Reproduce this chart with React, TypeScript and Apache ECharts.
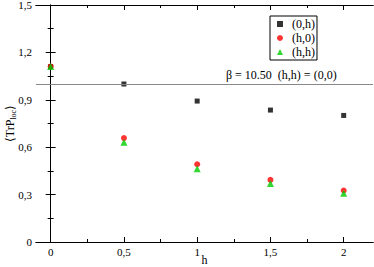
import React, { useEffect, useRef } from "react";
import * as echarts from "echarts";

const hValues = [0, 0.5, 1, 1.5, 2];
const series0h = [1.11, 1.0, 0.892, 0.835, 0.801];
const seriesH0 = [1.11, 0.658, 0.492, 0.393, 0.326];
const seriesHH = [1.11, 0.632, 0.463, 0.37, 0.309];
const xMajor = [0, 0.5, 1, 1.5, 2];
const xMinor = [0.25, 0.75, 1.25, 1.75];
const refLine = 1.0;

const FONT = "'Liberation Serif', 'Times New Roman', serif";

const fmt = (v: number) => (v === 0 ? "0" : String(v).replace(".", ","));
const fmtY = (v: number) => (Math.abs(v) < 1e-9 ? "0" : v.toFixed(1).replace(".", ","));

export default function App() {
  const ref = useRef<HTMLDivElement>(null);
  useEffect(() => {
    document.body.style.margin = "0";
    if (!ref.current) return;
    const chart = echarts.init(ref.current, undefined, { renderer: "svg" });
    const baseX = {
      type: "value",
      min: -0.1,
      max: 2.2,
      splitLine: { show: false },
      axisLine: { show: true, lineStyle: { color: "#000", width: 1 } },
    };
    chart.setOption({
      animation: false,
      backgroundColor: "#fff",
      textStyle: { fontFamily: FONT },
      grid: { left: 36, right: 1, top: 5, bottom: 25, containLabel: false, outerBoundsMode: "none" },
      xAxis: [
        {
          ...baseX,
          position: "bottom",
          name: "h",
          nameLocation: "middle",
          nameGap: 12,
          nameMoveOverlap: false,
          nameTextStyle: { fontFamily: FONT, fontSize: 12, color: "#000" },
          axisTick: { show: true, inside: true, length: 5, customValues: xMajor, lineStyle: { color: "#000" } },
          axisLabel: { show: true, customValues: xMajor, formatter: (v: number) => fmt(v), fontFamily: FONT, fontSize: 11, color: "#000", margin: 4 },
        },
        {
          ...baseX,
          position: "bottom",
          axisTick: { show: true, inside: true, length: 3, customValues: xMinor, lineStyle: { color: "#000" } },
          axisLabel: { show: false },
        },
        {
          ...baseX,
          position: "top",
          axisTick: { show: true, inside: true, length: 5, customValues: xMajor, lineStyle: { color: "#000" } },
          axisLabel: { show: false },
        },
        {
          ...baseX,
          position: "top",
          axisTick: { show: true, inside: true, length: 3, customValues: xMinor, lineStyle: { color: "#000" } },
          axisLabel: { show: false },
        },
      ],
      yAxis: [
        {
          type: "value",
          min: 0,
          max: 1.5,
          interval: 0.3,
          position: "left",
          name: "{a|⟨TrP}{sub|loc}{a|⟩}",
          nameLocation: "middle",
          nameGap: 19,
          nameMoveOverlap: false,
          nameTextStyle: {
            rich: {
              a: { fontFamily: FONT, fontSize: 12, color: "#000" },
              sub: { fontFamily: FONT, fontSize: 8, color: "#000", verticalAlign: "bottom", padding: [6, 0, 0, 0] },
            },
          },
          splitLine: { show: false },
          axisLine: { show: true, lineStyle: { color: "#000" } },
          axisTick: { show: true, inside: true, length: 5, lineStyle: { color: "#000" } },
          minorTick: { show: true, splitNumber: 2, length: 3, lineStyle: { color: "#000" } },
          minorSplitLine: { show: false },
          axisLabel: { formatter: (v: number) => fmtY(v), fontFamily: FONT, fontSize: 11, color: "#000", margin: 4 },
        },
        {
          type: "value",
          min: 0,
          max: 1.5,
          interval: 0.3,
          position: "right",
          splitLine: { show: false },
          axisLine: { show: true, lineStyle: { color: "#000" } },
          axisTick: { show: true, inside: true, length: 5, lineStyle: { color: "#000" } },
          minorTick: { show: true, splitNumber: 2, length: 3, lineStyle: { color: "#000" } },
          axisLabel: { show: false },
        },
      ],
      legend: {
        left: 270,
        top: 16,
        orient: "vertical",
        backgroundColor: "#fff",
        borderColor: "#000",
        borderWidth: 1,
        borderRadius: 0,
        padding: [2, 2, 2, 7],
        itemGap: 2,
        itemWidth: 6,
        itemHeight: 6,
        textStyle: { fontFamily: FONT, fontSize: 12, color: "#000", padding: [0, 0, 0, 4] },
        data: ["(0,h)", "(h,0)", "(h,h)"],
      },
      graphic: [
        {
          type: "text",
          left: 226,
          top: 69,
          style: { text: "β = 10.50  (h,h) = (0,0)", font: `12px ${FONT}`, fill: "#000" },
        },
      ],
      series: [
        {
          name: "(0,h)",
          type: "scatter",
          symbol: "rect",
          symbolSize: 5,
          itemStyle: { color: "#000" },
          data: hValues.map((h, i) => [h, series0h[i]]),
          markLine: {
            silent: true,
            symbol: ["none", "none"],
            label: { show: false },
            lineStyle: { color: "#888", width: 1, type: "solid" },
            data: [{ yAxis: refLine }],
          },
        },
        {
          name: "(h,0)",
          type: "scatter",
          symbol: "circle",
          symbolSize: 6,
          itemStyle: { color: "#ff0000" },
          data: hValues.map((h, i) => [h, seriesH0[i]]),
        },
        {
          name: "(h,h)",
          type: "scatter",
          symbol: "triangle",
          symbolSize: 7,
          itemStyle: { color: "#00cc00" },
          data: hValues.map((h, i) => [h, seriesHH[i]]),
        },
      ],
    });
    return () => chart.dispose();
  }, []);
  return <div ref={ref} style={{ width: 374, height: 267 }} />;
}
